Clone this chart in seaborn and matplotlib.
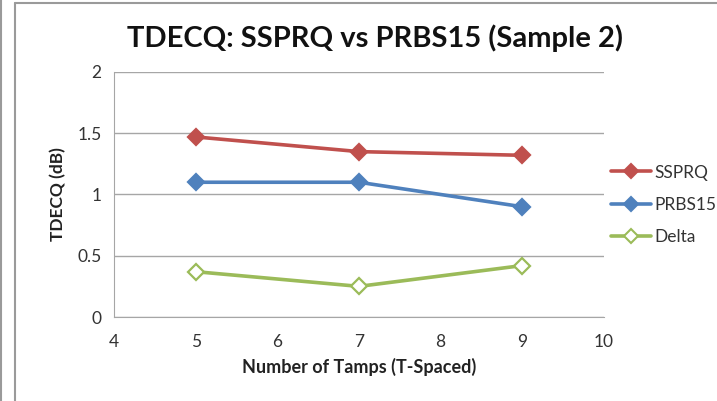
import matplotlib
matplotlib.use("Agg")
import matplotlib.pyplot as plt
import pandas as pd
import seaborn as sns
from matplotlib.lines import Line2D

# Data
taps = [5, 7, 9]
ssprq = [1.47, 1.35, 1.32]
prbs15 = [1.10, 1.10, 0.90]
delta = [0.37, 0.25, 0.42]
series_names = ["SSPRQ", "PRBS15", "Delta"]
colors = ["#C0504D", "#4F81BD", "#9BBB59"]

df = pd.DataFrame({"taps": taps * 3,
                   "value": ssprq + prbs15 + delta,
                   "series": [s for s in series_names for _ in taps]})

sns.set_style("white")
plt.rcParams['font.family'] = ['Lato', 'DejaVu Sans']

fig = plt.figure(figsize=(7.17, 4.01), dpi=100)
ax = fig.add_axes([114/717, 84/401, 490/717, 245/401])

for name, col in zip(series_names, colors):
    sub = df[df["series"] == name]
    face = "white" if name == "Delta" else col
    sns.lineplot(data=sub, x="taps", y="value", ax=ax, color=col, lw=2.6,
                 marker="D", markersize=8, markerfacecolor=face,
                 markeredgecolor=col, markeredgewidth=1.6, label=name)

ax.set_xlim(4, 10)
ax.set_ylim(0, 2)
ax.set_xticks(range(4, 11))
ax.set_yticks([0, 0.5, 1, 1.5, 2])
ax.set_yticklabels(["0", "0.5", "1", "1.5", "2"])
ax.yaxis.grid(True, color="#A6A6A6", lw=1)
ax.set_axisbelow(True)
for s in ["top", "right"]:
    ax.spines[s].set_visible(False)
for s in ["left", "bottom"]:
    ax.spines[s].set_color("#A6A6A6")
ax.tick_params(axis="both", length=6, width=1, color="#A6A6A6",
               labelsize=12.5, labelcolor="#333333", direction="out")
ax.tick_params(axis="y", pad=3)
ax.tick_params(axis="x", pad=6)

ax.set_xlabel("Number of Tamps (T-Spaced)", fontsize=13, fontweight="bold",
              color="#222222", labelpad=6)
ax.set_ylabel("TDECQ (dB)", fontsize=12.5, fontweight="bold",
              color="#222222", labelpad=8)
fig.text(375/717, 1 - 38/401, "TDECQ: SSPRQ vs PRBS15 (Sample 2)",
         ha="center", va="center", fontsize=21, fontweight="bold", color="#111111")

handles = [Line2D([0], [0], color=c, lw=2.6, marker="D", markersize=7,
                  markerfacecolor=("white" if n == "Delta" else c),
                  markeredgecolor=c, markeredgewidth=1.5)
           for n, c in zip(series_names, colors)]
ax.legend(handles, series_names, loc="center left", bbox_to_anchor=(611/717, 196/401),
          bbox_transform=fig.transFigure, frameon=False, fontsize=12.5,
          handlelength=2.3, handletextpad=0.2, labelspacing=0.95,
          borderpad=0, borderaxespad=0, labelcolor="#333333")

# chart frame and left edge line
fig.add_artist(plt.Line2D([15/717, 15/717], [0, 1 - 3/401], color="#9A9A9A", lw=1.5,
                          transform=fig.transFigure))
fig.add_artist(plt.Line2D([15/717, 1], [1 - 3/401, 1 - 3/401], color="#9A9A9A", lw=1.5,
                          transform=fig.transFigure))
fig.add_artist(plt.Line2D([1/717, 1/717], [0, 1], color="#9A9A9A", lw=1.5,
                          transform=fig.transFigure))

fig.savefig("out.png", dpi=100)
